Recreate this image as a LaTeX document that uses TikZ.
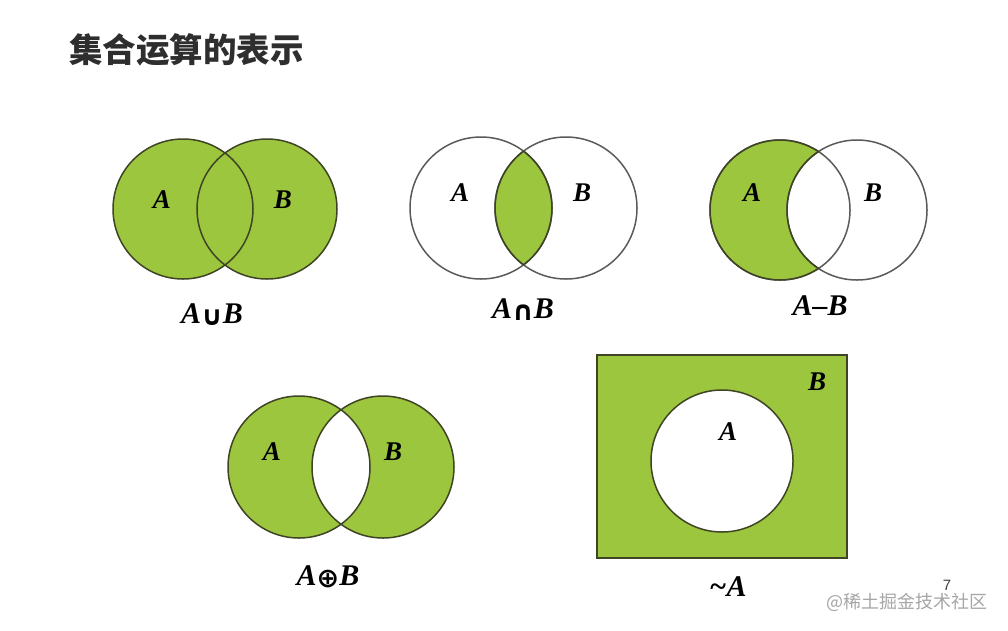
\RequirePackage{fix-cm}
\documentclass[tikz,border=0pt]{standalone}
\usepackage{fontspec}
\setmainfont{Liberation Serif}
\newfontfamily\cjk{Noto Sans CJK SC}
\newfontfamily\symfont{DejaVu Sans}
\definecolor{vgreen}{HTML}{9CC63E}
\definecolor{vline}{HTML}{3E4424}
\definecolor{cgray}{HTML}{5A5A5A}
\newcommand{\opsym}[1]{{\symfont\bfseries\fontsize{27}{27}\selectfont\raisebox{-2pt}{#1}}}
\begin{document}
\begin{tikzpicture}[x=1pt,y=-1pt,
  lab/.style={font=\fontsize{27}{27}\selectfont\bfseries\itshape, inner sep=0pt},
  caplab/.style={font=\fontsize{30}{30}\selectfont\bfseries\itshape, inner sep=0pt},
  outl/.style={draw=vline, line width=1.5pt},
  goutl/.style={draw=cgray, line width=1.5pt}]
\useasboundingbox (0,0) rectangle (1008,630);
\fill[white] (0,0) rectangle (1008,630);
% title
\node[anchor=west, inner sep=0pt, font=\cjk\bfseries\fontsize{33.5}{33.5}\selectfont, text=black!82] (title) at (69,50) {集合运算的表示};
% ---------- union
\fill[vgreen] (183,209) circle (70) (267,209) circle (70);
\draw[outl] (183,209) circle (70) (267,209) circle (70);
\node[lab] (u1) at (162,200) {A};
\node[lab] (u2) at (283,200) {B};
\node[caplab] (ucap) at (212,315) {A\opsym{∪}B};
% ---------- intersection
\begin{scope}
  \clip (481,208) circle (71);
  \fill[vgreen] (566,208) circle (71);
\end{scope}
\draw[goutl] (481,208) circle (71) (566,208) circle (71);
\begin{scope}
  \clip (481,208) circle (71);
  \draw[outl] (566,208) circle (71);
\end{scope}
\begin{scope}
  \clip (566,208) circle (71);
  \draw[outl] (481,208) circle (71);
\end{scope}
\node[lab] (i1) at (460,193) {A};
\node[lab] (i2) at (582,193) {B};
\node[caplab] (icap) at (523,310) {A\opsym{∩}B};
% ---------- difference
\fill[vgreen] (780,210) circle (70);
\fill[white] (857,210) circle (70);
\draw[goutl] (780,210) circle (70) (857,210) circle (70);
\begin{scope}[even odd rule]
  \clip (0,0) rectangle (1008,630) (857,210) circle (70);
  \draw[outl] (780,210) circle (70);
\end{scope}
\begin{scope}
  \clip (780,210) circle (70);
  \draw[outl] (857,210) circle (70);
\end{scope}
\node[lab] (d1) at (752,193) {A};
\node[lab] (d2) at (873,193) {B};
\node[caplab] (dcap) at (820,306) {A–B};
% ---------- symmetric difference
\fill[vgreen] (299,467) circle (71) (383,467) circle (71);
\begin{scope}
  \clip (299,467) circle (71);
  \fill[white] (383,467) circle (71);
\end{scope}
\draw[outl] (299,467) circle (71) (383,467) circle (71);
\node[lab] (s1) at (272,452) {A};
\node[lab] (s2) at (393,452) {B};
\node[caplab] (scap) at (328,577) {A\opsym{⊕}B};
% ---------- complement
\fill[vgreen] (597,355) rectangle (847,558);
\draw[outl] (597,355) rectangle (847,558);
\fill[white] (722,461) circle (71);
\draw[outl] (722,461) circle (71);
\node[lab] (c1) at (728,432) {A};
\node[lab] (c2) at (817,382) {B};
\node[caplab] (ccap) at (728,587) {\char"7E A};
% ---------- page number and watermark
\node[inner sep=0pt, font=\fontspec{Liberation Sans}\fontsize{15}{15}\selectfont, text=black!75] (pnum) at (947,585) {7};
\node[inner sep=0pt, anchor=west, font=\cjk\fontsize{18}{18}\selectfont, text=black!35] (wm) at (826,602) {@稀土掘金技术社区};
\end{tikzpicture}
\end{document}
